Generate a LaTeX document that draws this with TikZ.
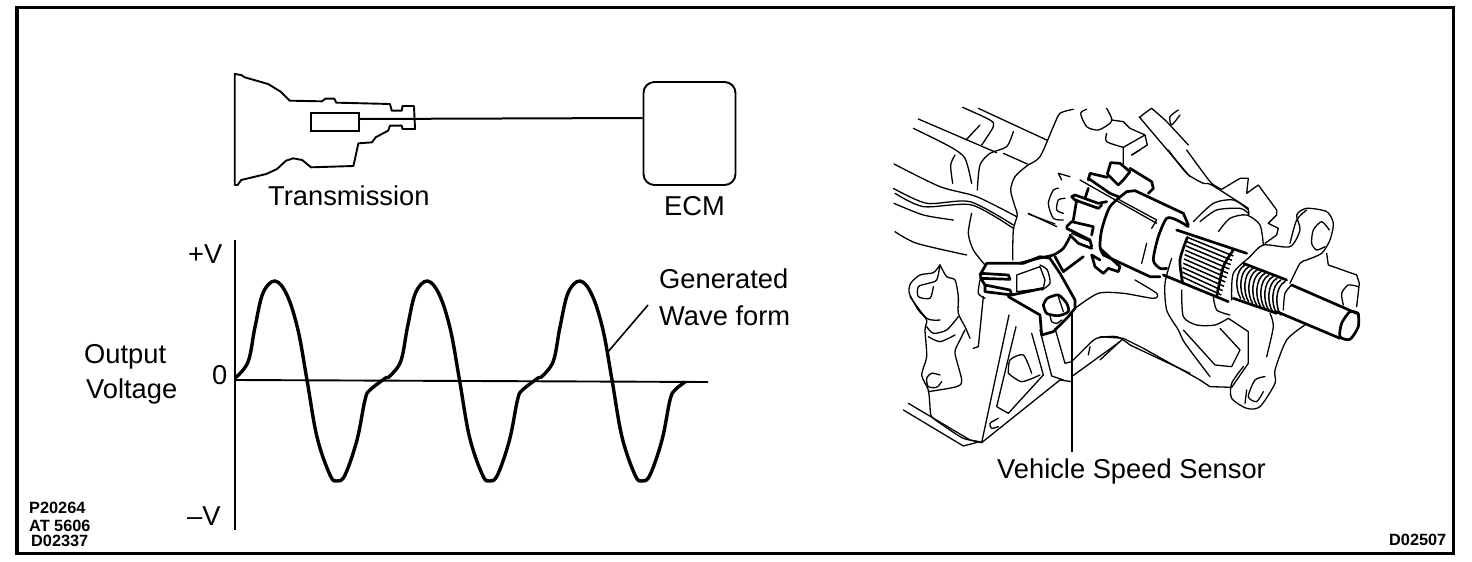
\documentclass[tikz,border=0pt]{standalone}
\usepackage{fontspec}
\setmainfont{Liberation Sans}
\tikzset{
  lab/.style={anchor=base west,inner sep=0pt,font=\fontsize{27.3}{30}\selectfont},
  code/.style={anchor=base west,inner sep=0pt,font=\fontsize{16.3}{17}\selectfont\bfseries},
  box/.style={draw,line width=1.9pt,inner sep=0pt},
  wire/.style={line width=2pt},
  leader/.style={line width=1.6pt},
  fine/.style={line width=1.3pt,line join=round,line cap=round},
  bold/.style={line width=2.7pt,line join=round,line cap=round}
}
\newcommand{\skline}[2][fine]{\draw[#1] plot[smooth,tension=.45] coordinates {#2};}
\newcommand{\poly}[2][fine]{\draw[#1] plot[sharp plot] coordinates {#2};}

\begin{document}
\begin{tikzpicture}[x=1pt,y=-1pt]
    \path[fill=white,use as bounding box] (0,0) rectangle (1472,562);
    \draw[line width=3.5pt] (17,7.5) rectangle (1453.5,553.5);

    % transmission and ecm
    \begin{scope}[shift={(200,60)},x=0.3584pt,y=-0.3333pt]
        \draw[line width=1.9pt,line join=round] (97,42) -- (115,45) -- (125,52) -- (190,72) -- (225,95) -- (250,122) -- (340,124) -- (350,116) -- (375,116) -- (380,128) -- (530,132) -- (535,152) -- (563,152) -- (565,138) -- (597,138) -- (600,207) -- (565,207) -- (563,197) -- (530,197) -- (525,212) -- (490,232) -- (480,247) -- (442,250) -- (428,318) -- (310,322) -- (285,300) -- (260,295) -- (240,302) -- (215,327) -- (185,342) -- (115,360) -- (105,375) -- (97,375) -- cycle;
    \end{scope}
    \node[box,minimum width=48.5pt,minimum height=18.5pt] (sens) at (335,122) {};
    \node[box,rounded corners=11pt,minimum width=92pt,minimum height=103pt] (ecm) at (689.5,133.5) {};
    \draw[wire] ([yshift=3pt]sens.east) -- ([yshift=15.5pt]ecm.west);
    \node[lab] (trans) at (268,205) {Transmission};
    \node[lab] (ecmlab) at (664,215) {ECM};

    % graph
    \coordinate (ytop) at (235,240);
    \coordinate (ybot) at (235,530);
    \coordinate (xstart) at (235,380);
    \coordinate (xend) at (708,382);
    \draw[line width=2pt] (ytop) -- (ybot);
    \draw[line width=1.9pt] (xstart) -- (xend);
    \foreach \k/\ex/\ey in {0/387/377,1/387/377,2/380/382}{
        \draw[line width=3.4pt,shift={(\k*152.5,0)}] plot[smooth,tension=.6] coordinates {(235,378) (248,362) (255,327) (263,293) (275,281) (287,295) (298,330) (307,380) (317,437) (330,475) (337,481) (345,475) (357,440) (365,400) (370,390) (\ex,\ey)};
    }
    \node[lab] (pv) at (188,263) {+V};
    \node[lab] (zero) at (212,384) {0};
    \node[lab] (mv) at (187,525) {–V};
    \node[lab] (out) at (84,363) {Output};
    \node[lab] (volt) at (86,398) {Voltage};
    \node[lab] (gen) at (659,288) {Generated};
    \node[lab] (wave) at (659,325) {Wave form};
    \coordinate (wavea) at (607,353);
    \coordinate (waveb) at (648,305);
    \draw[leader] (wavea) -- (waveb);

    % codes
    \node[code] (c1) at (29,513) {P20264};
    \node[code] (c2) at (29,531) {AT 5606};
    \node[code] (c3) at (31,546) {D02337};
    \node[code] (c4) at (1389,545) {D02507};

    % left part of the unit
    \begin{scope}[shift={(890,90)},x=0.3333pt,y=-0.3333pt]
        \skline{(218,52) (300,90) (310,110) (275,165)}
        \poly{(265,55) (470,150)}
        \poly{(85,87) (320,188)}
        \poly{(340,190) (412,222)}
        \skline{(70,115) (180,170) (225,205) (245,280)}
        \skline{(195,195) (182,225) (188,280)}
        \poly{(270,105) (228,150)}
        \skline{(370,125) (350,170) (300,190) (270,225) (262,300)}
        \skline{(550,58) (510,70) (490,110) (450,200) (410,228) (375,260) (362,300) (375,350) (382,375) (370,420) (368,510)}
        \skline{(590,58) (572,70) (590,110) (625,120) (660,100) (665,85) (650,55)}
        \skline{(650,130) (650,155) (700,172)}
        \poly{(665,90) (700,95) (720,115) (765,135) (700,172) (700,225)}
        \poly{(765,135) (772,165) (725,195)}
        \skline{(785,55) (752,80) (760,95) (900,260)}
        \skline{(785,55) (830,95) (895,165)}
        \skline{(865,60) (840,80) (845,105) (870,75)}
        \skline{(12,222) (150,290) (260,320) (380,380)}
        \skline{(10,295) (110,340) (240,335) (370,405)}
        \skline{(15,310) (100,350) (245,345) (370,415)}
        \skline{(12,340) (100,375) (190,390)}
        \skline{(15,425) (80,460) (230,495)}
        \skline{(245,370) (235,430) (250,480) (285,525)}
        \skline{(415,372) (495,402)}
        % hose
        \skline{(150,525) (130,548) (90,555) (62,580) (58,610) (85,660) (110,690) (105,720) (110,800) (95,855) (115,900) (120,950) (125,980) (165,1010) (220,1045) (270,1055)}
        \skline{(150,525) (170,560) (195,570) (205,620) (205,670) (225,710) (240,745)}
        \skline{(225,720) (205,760) (195,790) (215,870) (200,890) (115,905)}
        \skline{(150,855) (125,850) (110,865) (115,890) (140,892) (155,875)}
        \skline{(110,710) (130,730) (170,720) (205,680)}
        \skline{(115,740) (150,755) (195,735)}
        \skline{(150,525) (140,570) (115,580) (85,590) (85,620) (120,625) (130,590)}
        \skline{(60,620) (110,685) (150,690)}
        % frame below the sensor
        \poly{(40,960) (220,1068) (270,1055)}
        \poly{(55,940) (240,1050) (275,1058)}
        \poly{(357,675) (275,1058) (510,870) (545,875)}
        \poly{(378,710) (320,950) (355,970) (460,855) (425,730)}
        \poly{(450,720) (485,858) (520,870)}
        \poly{(495,715) (525,820) (545,815) (590,770)}
        \skline{(590,770) (620,745) (680,740) (720,765)}
        \poly{(720,765) (900,850)}
        \poly{(545,860) (690,755)}
        \poly{(600,770) (595,795)}
        \skline{(355,850) (360,810) (400,795) (425,850)}
        \skline{(355,850) (395,875) (450,855)}
        \skline{(325,985) (300,1000) (305,1015) (325,1010)}
        \poly{(280,620) (265,770) (250,775)}
        \skline{(270,570) (265,610) (285,625)}
        \skline{(555,655) (625,610) (700,610) (790,625) (800,610) (735,570)}
    \end{scope}

    % sensor
    \begin{scope}[shift={(960,240)},x=0.3333pt,y=-0.3333pt]
        \poly[bold]{(60,105) (80,70) (190,70) (240,50) (270,55) (300,100) (345,180) (345,205) (325,230)}
        \poly[bold]{(62,100) (145,105) (150,118) (62,115) (62,100)}
        \poly[bold]{(75,135) (150,150) (155,165) (75,155) (75,135)}
        \poly[bold]{(62,115) (75,135)}
        \poly{(170,105) (240,80) (255,120) (250,145) (170,155) (170,105)}
        \poly[bold]{(155,165) (250,145)}
        \skline{(240,75) (262,90) (270,130) (245,150)}
        \poly[bold]{(145,170) (240,225) (245,285) (280,275) (325,230)}
        \skline[bold]{(250,195) (262,175) (295,165) (320,190) (325,215) (295,227) (260,220) (250,195)}
        \poly{(295,170) (310,215)}
        \skline{(270,225) (275,245) (290,250) (305,240)}
    \end{scope}

    % gear and cylinder
    \begin{scope}[shift={(1020,160)},x=0.3333pt,y=-0.3333pt]
        \poly[bold]{(320,95) (345,92) (490,160) (505,195)}
        \skline[bold]{(320,95) (270,140) (245,210) (240,260) (250,285)}
        \poly[bold]{(250,285) (390,350) (420,350)}
        \skline[bold]{(505,200) (470,180) (440,175) (415,230) (400,300) (420,325) (440,325)}
        \poly[bold]{(262,42) (272,8) (300,10) (330,35) (310,60) (295,75) (262,42)}
        \poly[bold]{(330,25) (395,65) (400,85) (385,100)}
        \poly[bold]{(205,60) (210,40) (262,52)}
        \poly[bold]{(205,55) (270,100) (295,110)}
        \poly{(180,60) (410,190)}
        \poly{(290,115) (410,180) (395,205)}
        \poly[bold]{(165,120) (155,110) (165,105) (235,130) (260,125)}
        \poly[bold]{(165,120) (235,145) (245,135)}
        \poly[bold]{(205,85) (195,115)}
        \poly[bold]{(140,200) (155,185) (220,200) (215,225)}
        \poly[bold]{(140,205) (210,240) (215,260)}
        \poly{(155,220) (210,245)}
        \poly[bold]{(170,120) (160,180)}
        \skline[bold]{(150,230) (130,265) (100,285) (55,295) (0,310)}
        \poly[bold]{(105,290) (130,335) (190,290)}
        \poly[bold]{(150,225) (175,250) (215,265)}
        \poly[bold]{(240,265) (300,320) (295,335) (265,325) (250,340) (225,320) (215,285) (240,300)}
        \poly{(115,40) (150,50)}
        \poly{(115,40) (125,60)}
        \skline{(115,85) (100,90) (85,130) (100,175) (130,180)}
        \skline{(135,115) (115,120) (110,150) (130,160)}
        \poly{(25,160) (110,200)}
        \skline{(380,250) (365,310)}
    \end{scope}

    % spline, stud and hub
    \begin{scope}[shift={(1100,150)},x=0.3333pt,y=-0.3333pt]
        \skline{(205,0) (260,70) (310,100) (335,105) (445,175)}
        \skline{(260,0) (300,55) (335,100) (365,118)}
        \poly{(95,15) (120,0)}
        \skline{(280,215) (340,160) (400,150) (445,180) (445,195)}
        \skline{(300,215) (350,180) (420,175) (445,190)}
        \skline{(355,245) (390,205) (440,195) (480,225) (490,285)}
        \poly{(365,118) (420,85) (445,85) (440,130) (475,105) (530,180) (530,195) (505,220) (535,235) (530,255) (495,280)}
        \poly{(0,630) (70,565) (130,595) (300,690) (330,710) (395,712)}
        \poly{(0,560) (70,565)}
        \skline{(215,325) (195,400) (200,480) (235,540) (255,580) (330,680)}
        \poly{(250,540) (345,645) (395,650) (420,600) (360,535)}
        \skline{(245,420) (250,500) (290,525) (345,525) (385,505)}
        \poly{(385,505) (445,545) (445,640) (395,712)}
        \skline{(340,440) (350,480) (390,495)}
        \skline{(395,450) (400,370) (450,320) (490,285) (570,290) (600,240) (590,195) (620,175) (680,185) (700,220) (690,270) (665,310) (620,330) (600,340) (570,400)}
        \skline{(570,280) (590,210) (620,180)}
        \skline{(688,240) (665,215) (640,240) (635,280) (650,300) (675,290)}
        \poly{(680,310) (685,345) (770,375) (778,400) (770,470)}
        \skline{(775,410) (745,405) (725,430) (730,465)}
        \poly[bold]{(575,405) (770,490)}
        \poly[bold]{(530,485) (720,565)}
        \skline[bold]{(775,490) (750,485) (725,520) (720,560) (750,568) (775,530) (775,490)}
        \skline{(575,405) (555,430) (550,480)}
        \foreach \i in {0,...,10}{
            \draw[fine,line width=1.5pt] (435+12*\i,345+5*\i) .. controls (405+12*\i,360+5*\i) and (405+12*\i,420+5*\i) .. (422+12*\i,445+5*\i);
        }
        \poly[bold]{(430,340) (560,390)}
        \poly[bold]{(400,445) (530,490)}
        \poly[bold]{(230,240) (440,310)}
        \poly[bold]{(190,375) (385,455)}
        \foreach \i in {0,...,9}{
            \draw[line width=1.5pt] (262-2*\i,262+13*\i) -- (400-4*\i,318+13*\i);
        }
        \skline[bold]{(262,262) (240,330) (248,400)}
        \skline[bold]{(400,300) (370,350) (350,440)}
        \skline{(510,490) (520,530) (500,620)}
        \skline{(615,525) (560,570) (525,660) (525,700) (480,770) (440,775) (395,745) (395,700) (430,650)}
        \skline{(495,680) (465,690) (445,740) (470,755) (490,725)}
        \poly{(440,720) (435,760)}
    \end{scope}

    \node[lab] (vss) at (997,478) {Vehicle Speed Sensor};
    \coordinate (vssa) at (1072,313);
    \draw[leader] (vssa) -- (vssa |- 0,452);
\end{tikzpicture}
\end{document}
